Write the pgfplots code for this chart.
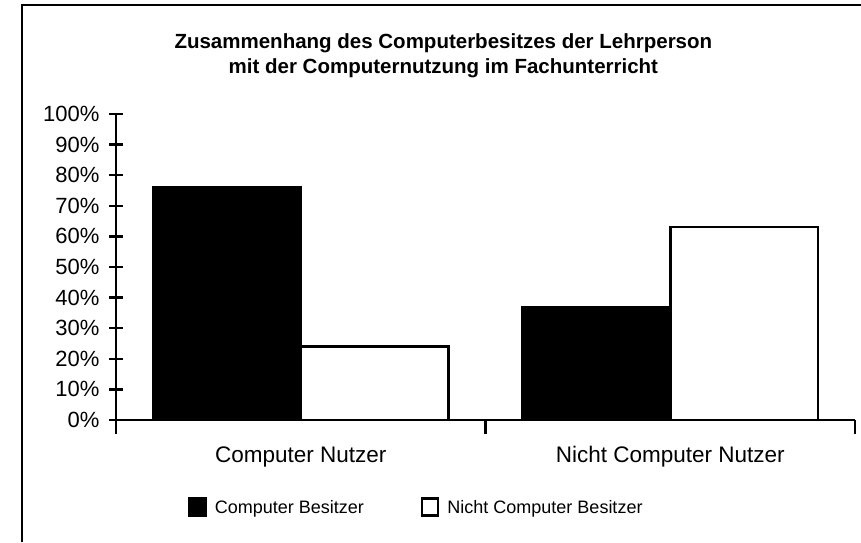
\documentclass[border=0pt]{standalone}
\usepackage{pgfplots}
\pgfplotsset{compat=1.18}
\usepackage{fontspec}
\setmainfont{Liberation Sans}

\begin{document}
\begin{tikzpicture}
% page frame in pixel units of the reference (1pt = 1px)
\path[use as bounding box] (0pt,0pt) rectangle (861pt,542pt);
\draw[line width=2.5pt] (22pt,0pt) -- (22pt,537pt) -- (861pt,537pt);
\begin{axis}[
    at={(116pt,122pt)}, anchor=south west,
    scale only axis,
    width=739pt, height=306pt,
    xmin=0, xmax=2,
    ymin=0, ymax=100,
    axis lines*=left,
    axis line style={line width=2.5pt},
    tick style={line width=2.5pt, black},
    tick align=center,
    major tick length=14pt,
    xtick={0,1,2},
    xticklabels={},
    extra x ticks={0.5,1.5},
    extra x tick labels={Computer Nutzer, Nicht Computer Nutzer},
    extra x tick style={major tick length=0pt,
        tick label style={font=\fontsize{22.5}{26}\selectfont, yshift=-23pt}},
    ytick={0,10,...,100},
    yticklabel={\pgfmathprintnumber{\tick}\%},
    yticklabel style={font=\fontsize{22}{26}\selectfont, xshift=-6pt},
    /pgf/number format/assume math mode=true,
    title={Zusammenhang des Computerbesitzes der Lehrperson\\mit der Computernutzung im Fachunterricht},
    title style={at={(0.443,1)}, anchor=south, yshift=30pt, inner sep=0pt,
        align=center, font=\fontsize{20.5}{25}\selectfont\bfseries},
    ybar,
    bar width=0.4,
    legend columns=2,
    legend style={draw=none, fill=none, at={(0.4066,-0.284)}, anchor=center,
        font=\fontsize{18}{20}\selectfont,
        /tikz/every odd column/.append style={column sep=6pt},
        /tikz/every even column/.append style={column sep=55pt}},
    legend image code/.code={\draw[#1, line width=2.5pt] (0pt,-8pt) rectangle (16pt,9pt);},
]
\addplot[fill=black, draw=black, line width=2.5pt, bar shift=-0.2]
    coordinates {(0.5,76) (1.5,37)};
\addplot[fill=white, draw=black, line width=2.5pt, bar shift=0.2]
    coordinates {(0.5,24) (1.5,63)};
\legend{Computer Besitzer, Nicht Computer Besitzer}
\end{axis}
\end{tikzpicture}
\end{document}
